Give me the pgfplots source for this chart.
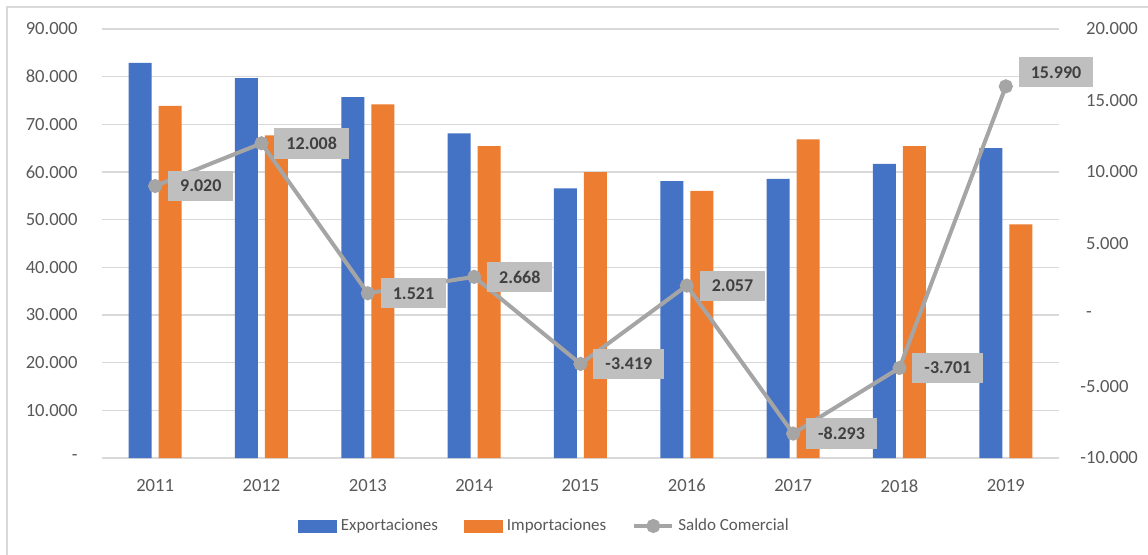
\documentclass[border=0pt]{standalone}
\usepackage{pgfplots}
\pgfplotsset{compat=1.18}
\usepackage{pgfplotstable}
\usepackage{fontspec}
\setmainfont{Carlito}
\definecolor{cexp}{HTML}{4472C4}
\definecolor{cimp}{HTML}{ED7D31}
\definecolor{csal}{HTML}{A5A5A5}
\definecolor{cgrid}{HTML}{D9D9D9}
\definecolor{ctxt}{HTML}{595959}
\definecolor{clab}{HTML}{404040}
\definecolor{cbox}{HTML}{BFBFBF}

\pgfplotstableread{
x exp imp
0 82900 73880
1 79720 67712
2 75730 74209
3 68120 65452
4 56580 59999
5 58110 56053
6 58550 66843
7 61720 65421
8 65020 49030
}\bars

\pgfplotstableread{
x y label dy
0 9020 9.020 0
1 12008 12.008 0
2 1521 1.521 0
3 2668 2.668 0
4 -3419 -3.419 0
5 2057 2.057 0
6 -8293 -8.293 0
7 -3701 -3.701 0
8 15990 15.990 7
}\saldo

\begin{document}
\begin{tikzpicture}[font=\fontsize{9.3}{11}\selectfont]
\useasboundingbox (-51pt,-48pt) rectangle (523pt,229pt);
\draw[cgrid, line width=0.6pt] (-47.5pt,-70pt) rectangle (560pt,225.5pt);
\begin{axis}[
  at={(0,0)}, anchor=south west,
  scale only axis, width=478.5pt, height=214.5pt,
  xmin=-0.5, xmax=8.5, ymin=0, ymax=90000,
  scaled y ticks=false,
  axis line style={draw=none},
  major tick length=0pt,
  xtick={0,...,8},
  xticklabels={2011,2012,2013,2014,2015,2016,2017,2018,2019},
  ytick={0,10000,...,90000},
  yticklabels={{-\hspace{4pt}},10.000,20.000,30.000,40.000,50.000,60.000,70.000,80.000,90.000},
  ymajorgrids, grid style={cgrid, line width=0.6pt},
  xticklabel style={anchor=north, inner sep=0pt, yshift=-10.5pt, text=ctxt},
  yticklabel style={anchor=east, inner sep=0pt, xshift=-12pt, text=ctxt},
  ybar, bar width=11.5pt,
]
\addplot[fill=cexp, draw=none, bar shift=-7.5pt] table[x=x, y=exp] {\bars};
\addplot[fill=cimp, draw=none, bar shift=7.5pt] table[x=x, y=imp] {\bars};
\end{axis}
\begin{axis}[
  at={(0,0)}, anchor=south west,
  scale only axis, width=478.5pt, height=214.5pt,
  xmin=-0.5, xmax=8.5, ymin=-10000, ymax=20000,
  scaled y ticks=false,
  axis line style={draw=none},
  axis x line=none,
  axis y line*=right,
  major tick length=0pt,
  ytick={-10000,-5000,...,20000},
  yticklabels={-10.000,-5.000,{\phantom{-}-},{\phantom{-}5.000},{\phantom{-}10.000},{\phantom{-}15.000},{\phantom{-}20.000}},
  yticklabel style={anchor=west, inner sep=0pt, xshift=10.5pt, text=ctxt},
  legend style={draw=none, fill=none, at={(0.4634,-0.1585)}, anchor=center,
    legend columns=3, text=ctxt, font=\fontsize{8.5}{10}\selectfont,
    /tikz/every even column/.append style={column sep=11pt},
    inner sep=0pt},
]
\addlegendimage{legend image code/.code={\fill[cexp] (0pt,-3pt) rectangle (19pt,3pt);}}
\addlegendentry{Exportaciones}
\addlegendimage{legend image code/.code={\fill[cimp] (0pt,-3pt) rectangle (19pt,3pt);}}
\addlegendentry{Importaciones}
\addplot[csal, line width=2pt, mark=*, mark size=2.5pt, mark options={fill=csal, draw=csal},
  legend image code/.code={\draw[csal, line width=2pt] (0pt,0pt) -- (19pt,0pt); \fill[csal] (9.5pt,0pt) circle (2.5pt);},
  point meta=explicit symbolic,
  visualization depends on={\thisrow{dy} \as \dy},
  nodes near coords,
  every node near coord/.append style={anchor=west, xshift=5.5pt, yshift=\dy pt,
    fill=cbox, text=clab, font=\fontsize{9}{11}\selectfont\bfseries,
    inner xsep=6pt, inner ysep=4.5pt},
] table[x=x, y=y, meta=label] {\saldo};
\addlegendentry{Saldo Comercial}
\end{axis}
\end{tikzpicture}
\end{document}
